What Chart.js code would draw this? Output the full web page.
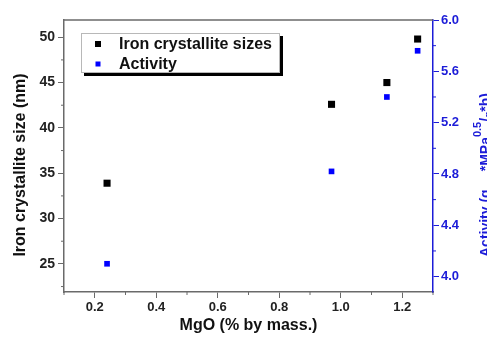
<!DOCTYPE html>
<html>
<head>
<meta charset="utf-8">
<script src="https://cdn.jsdelivr.net/npm/chart.js@4"></script>
<style>
  html, body { margin: 0; padding: 0; background: #fff; }
  #wrap { width: 487px; height: 337px; }
</style>
</head>
<body>
<div id="wrap"><canvas id="chart" width="487" height="337"></canvas></div>
<script>
// data
const mgo = [0.24, 0.97, 1.15, 1.25]
const crystalliteSize = [33.9, 42.6, 45.0, 49.8]
const activity = [4.10, 4.82, 5.40, 5.76]

// tick values
const xTicks = [0.2, 0.4, 0.6, 0.8, 1.0, 1.2]
const xMinor = [0.1, 0.3, 0.5, 0.7, 0.9, 1.1, 1.3]
const leftTicks = [25, 30, 35, 40, 45, 50]
const leftMinor = [22.5, 27.5, 32.5, 37.5, 42.5, 47.5]
const rightTicks = [4.0, 4.4, 4.8, 5.2, 5.6, 6.0]
const rightMinor = [4.2, 4.6, 5.0, 5.4, 5.8]

const FONT = "'Liberation Sans', Arial, sans-serif"
const BLUE = '#1c1cd8'
const AXIS_GREY = '#6a6a6a'

const fixTicks = arr => scale => { scale.ticks = arr.map(v => ({value: v})) }

// frame, minor ticks, axis titles and legend box
const extras = {
    id: 'extras',
    afterDraw(chart) {
        const ctx = chart.ctx
        const a = chart.chartArea
        const sx = chart.scales.x, sl = chart.scales.y, sr = chart.scales.y1
        ctx.save()

        //top frame line
        ctx.strokeStyle = AXIS_GREY
        ctx.lineWidth = 1.5
        ctx.beginPath()
        ctx.moveTo(a.left, a.top)
        ctx.lineTo(a.right, a.top)
        ctx.stroke()

        //minor ticks
        ctx.lineWidth = 1
        ctx.beginPath()
        xMinor.forEach(v => {
            const px = sx.getPixelForValue(v)
            ctx.moveTo(px, a.bottom)
            ctx.lineTo(px, a.bottom + 3)
        })
        leftMinor.forEach(v => {
            const py = sl.getPixelForValue(v)
            ctx.moveTo(a.left, py)
            ctx.lineTo(a.left - 3, py)
        })
        ctx.stroke()
        ctx.strokeStyle = BLUE
        ctx.beginPath()
        rightMinor.forEach(v => {
            const py = sr.getPixelForValue(v)
            ctx.moveTo(a.right, py)
            ctx.lineTo(a.right + 3, py)
        })
        ctx.stroke()

        //axis titles
        ctx.fillStyle = '#111'
        ctx.font = 'bold 16px ' + FONT
        ctx.textAlign = 'center'
        ctx.textBaseline = 'middle'
        ctx.fillText('MgO (% by mass.)', (a.left + a.right) / 2, 326)

        ctx.save()
        ctx.translate(21, 165)
        ctx.rotate(-Math.PI / 2)
        ctx.fillText('Iron crystallite size (nm)', 0, 0)
        ctx.restore()

        //right title with sub/superscripts, runs off the canvas edge like the original
        ctx.save()
        ctx.translate(490, 257)
        ctx.rotate(-Math.PI / 2)
        ctx.fillStyle = BLUE
        ctx.textAlign = 'left'
        ctx.textBaseline = 'alphabetic'
        const parts = [
            ['Activity (g', 14, 0],
            ['NH3', 9, 3],
            ['*MPa', 14, 0],
            ['0.5', 11, -9],
            ['/', 14, 0],
            ['g', 10, 2],
            ['*h)', 14, 0]
        ]
        let cx = 0
        parts.forEach(p => {
            ctx.font = 'bold ' + p[1] + 'px ' + FONT
            ctx.fillText(p[0], cx, p[2])
            cx += ctx.measureText(p[0]).width
        })
        ctx.restore()

        //legend
        const lx = 81, ly = 33, lw = 199, lh = 40
        ctx.fillStyle = '#000'
        ctx.fillRect(lx + 3, ly + 3, lw, lh)
        ctx.fillStyle = '#fff'
        ctx.fillRect(lx, ly, lw, lh)
        ctx.strokeStyle = '#b8b8b8'
        ctx.lineWidth = 1
        ctx.strokeRect(lx + 0.5, ly + 0.5, lw - 1, lh - 1)
        ctx.font = 'bold 16px ' + FONT
        ctx.textAlign = 'left'
        ctx.textBaseline = 'middle'
        chart.data.datasets.forEach((ds, i) => {
            const y = ly + 11 + i * 20
            const s = i == 0 ? 6 : 5
            ctx.fillStyle = ds.backgroundColor
            ctx.fillRect(98 - s / 2, y - s / 2, s, s)
            ctx.fillStyle = '#111'
            ctx.fillText(ds.label, 119, y + 1)
        })

        ctx.restore()
    }
}

new Chart(document.getElementById('chart').getContext('2d'), {
    type: 'scatter',
    data: {
        datasets: [
            {
                label: 'Iron crystallite sizes',
                data: mgo.map((x, i) => ({x: x, y: crystalliteSize[i]})),
                yAxisID: 'y',
                pointStyle: 'rect',
                pointRadius: 5,
                borderWidth: 0,
                backgroundColor: '#000'
            },
            {
                label: 'Activity',
                data: mgo.map((x, i) => ({x: x, y: activity[i]})),
                yAxisID: 'y1',
                pointStyle: 'rect',
                pointRadius: 4,
                borderWidth: 0,
                backgroundColor: '#0000ff'
            }
        ]
    },
    options: {
        responsive: false,
        animation: false,
        layout: {padding: {top: 20, left: 0, right: 0, bottom: 0}},
        plugins: {legend: {display: false}, tooltip: {enabled: false}},
        scales: {
            x: {
                type: 'linear',
                min: 0.1,
                max: 1.3,
                afterBuildTicks: fixTicks(xTicks),
                afterFit: s => { s.height = 45 },
                ticks: {
                    font: {family: FONT, weight: 'bold', size: 13},
                    color: '#222',
                    padding: 2,
                    maxRotation: 0,
                    callback: v => v.toFixed(1)
                },
                grid: {drawOnChartArea: false, tickLength: 6, color: AXIS_GREY},
                border: {color: AXIS_GREY, width: 1.5}
            },
            y: {
                position: 'left',
                min: 21.9,
                max: 51.9,
                afterBuildTicks: fixTicks(leftTicks),
                afterFit: s => { s.width = 64 },
                ticks: {
                    font: {family: FONT, weight: 'bold', size: 14},
                    color: '#222',
                    padding: 3
                },
                grid: {drawOnChartArea: false, tickLength: 6, color: AXIS_GREY},
                border: {color: AXIS_GREY, width: 1.5}
            },
            y1: {
                position: 'right',
                min: 3.88,
                max: 6.0,
                afterBuildTicks: fixTicks(rightTicks),
                afterFit: s => { s.width = 54 },
                ticks: {
                    font: {family: FONT, weight: 'bold', size: 13},
                    color: BLUE,
                    padding: 2,
                    callback: v => v.toFixed(1)
                },
                grid: {drawOnChartArea: false, tickLength: 6, color: BLUE},
                border: {color: BLUE, width: 1.5}
            }
        }
    },
    plugins: [extras]
})
</script>
</body>
</html>
